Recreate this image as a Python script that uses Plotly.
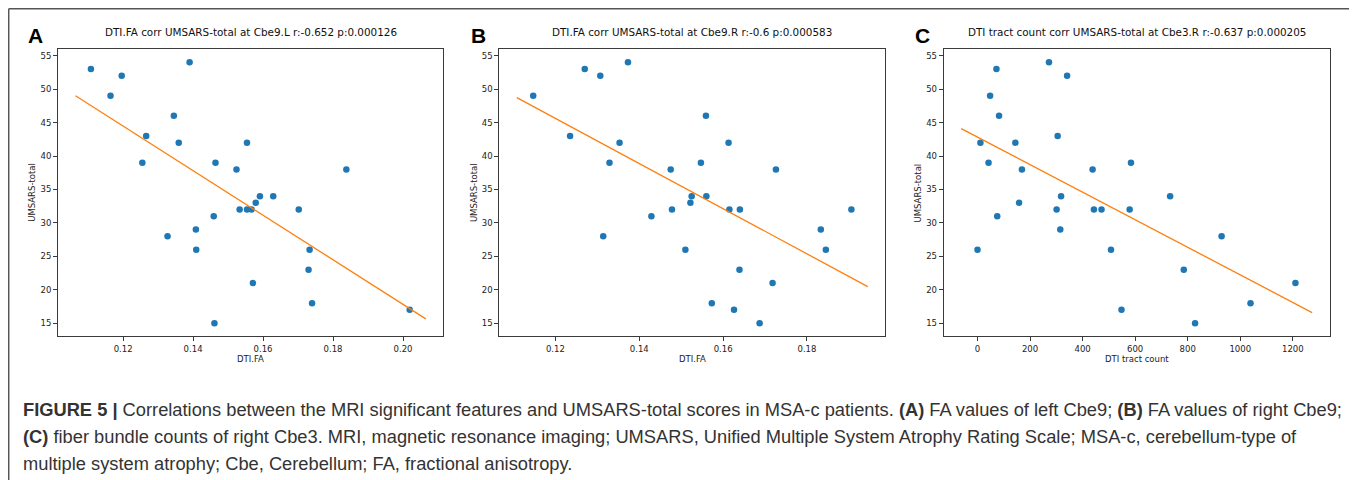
import plotly.graph_objects as go

# The page body has an 8px margin, so the figure is sized to fit inside the window
OFF = 8
W, H = 1357 - OFF, 480 - OFF

# ---------------- data ----------------
a_fa = [0.1108, 0.1164, 0.1196, 0.1390, 0.1345, 0.1266, 0.1359, 0.1554, 0.1255, 0.1464,
        0.1524, 0.1838, 0.1591, 0.1629, 0.1579, 0.1533, 0.1554, 0.1567, 0.1702, 0.1459,
        0.1408, 0.1327, 0.1409, 0.1733, 0.1730, 0.1571, 0.1740, 0.2019, 0.1461]
a_ums = [53, 49, 52, 54, 46, 43, 42, 42, 39, 39,
         38, 38, 34, 34, 33, 32, 32, 32, 32, 31,
         29, 28, 26, 26, 23, 21, 18, 17, 15]
a_fit_x = [0.1064, 0.2065]
a_fit_y = [49.0, 15.66]

b_fa = [0.1147, 0.1270, 0.1307, 0.1373, 0.1559, 0.1235, 0.1353, 0.1613, 0.1329, 0.1547,
        0.1475, 0.1726, 0.1525, 0.1560, 0.1522, 0.1478, 0.1615, 0.1640, 0.1906, 0.1429,
        0.1833, 0.1314, 0.1510, 0.1845, 0.1639, 0.1718, 0.1573, 0.1626, 0.1687]
b_ums = [49, 53, 52, 54, 46, 43, 42, 42, 39, 39,
         38, 38, 34, 34, 33, 32, 32, 32, 32, 31,
         29, 28, 26, 26, 23, 21, 18, 17, 15]
b_fit_x = [0.1108, 0.1945]
b_fit_y = [48.73, 20.48]

c_cnt = [72, 48, 82, 272, 341, 305, 11, 144, 42, 169,
         438, 584, 318, 733, 158, 301, 443, 472, 579, 75,
         315, 929, 0, 508, 785, 1210, 1039, 548, 828]
c_ums = [53, 49, 46, 54, 52, 43, 42, 42, 39, 38,
         38, 39, 34, 34, 33, 32, 32, 32, 32, 31,
         29, 28, 26, 26, 23, 21, 18, 17, 15]
c_fit_x = [-61.9, 1273.6]
c_fit_y = [44.1, 16.6]

titles = ["DTI.FA corr UMSARS-total at Cbe9.L r:-0.652 p:0.000126",
          "DTI.FA corr UMSARS-total at Cbe9.R r:-0.6 p:0.000583",
          "DTI tract count corr UMSARS-total at Cbe3.R r:-0.637 p:0.000205"]
xlabels = ["DTI.FA", "DTI.FA", "DTI tract count"]
ylabel = "UMSARS-total"
letters = ["A", "B", "C"]
x_dticks = [0.02, 0.02, 200]
x_formats = [".2f", ".2f", "d"]

caption_lines = [
    "<b>FIGURE 5 |</b> Correlations between the MRI significant features and UMSARS-total scores in MSA-c patients. "
    "<b>(A)</b> FA values of left Cbe9; <b>(B)</b> FA values of right Cbe9;",
    "<b>(C)</b> fiber bundle counts of right Cbe3. MRI, magnetic resonance imaging; UMSARS, Unified Multiple System "
    "Atrophy Rating Scale; MSA-c, cerebellum-type of",
    "multiple system atrophy; Cbe, Cerebellum; FA, fractional anisotropy.",
]

panels = [(a_fa, a_ums, a_fit_x, a_fit_y),
          (b_fa, b_ums, b_fit_x, b_fit_y),
          (c_cnt, c_ums, c_fit_x, c_fit_y)]

# ---------------- layout (screen pixels) ----------------
px_left = [58.0, 499.3, 943.7]
px_right = [443.3, 885.3, 1329.7]
px_top, px_bottom = 49.3, 336.3
letter_left = [28.0, 470.7, 915.0]


def sx(px):
    return (px - OFF) / W


def sy(py):
    return 1 - (py - OFF) / H


def auto_range(vals):
    lo, hi = min(vals), max(vals)
    m = (hi - lo) * 0.05
    return [lo - m, hi + m]


fig = go.Figure()
annotations = []
shapes = []

tick_font = dict(family="DejaVu Sans", size=8.5, color="#222")
ydom = [sy(px_bottom), sy(px_top)]

for i, (xs, ys, fx, fy) in enumerate(panels):
    n = "" if i == 0 else str(i + 1)
    xa, ya = "x" + n, "y" + n
    fig.add_trace(go.Scatter(x=xs, y=ys, mode="markers", xaxis=xa, yaxis=ya,
                             marker=dict(color="#1f77b4", size=6.5, line=dict(width=0)),
                             showlegend=False, hoverinfo="x+y"))
    fig.add_trace(go.Scatter(x=fx, y=fy, mode="lines", xaxis=xa, yaxis=ya,
                             line=dict(color="#ff7f0e", width=1.3),
                             showlegend=False))
    xdom = [sx(px_left[i]), sx(px_right[i])]
    common = dict(showline=True, mirror=True, linecolor="#3a3a3a", linewidth=1,
                  ticks="outside", ticklen=4, tickwidth=0.8, tickcolor="#3a3a3a",
                  showgrid=False, zeroline=False, tickfont=tick_font)
    fig.layout["xaxis" + n] = dict(domain=xdom, anchor=ya, range=auto_range(xs + fx),
                                   dtick=x_dticks[i], tick0=0, tickformat=x_formats[i], **common)
    fig.layout["yaxis" + n] = dict(domain=ydom, anchor=xa, range=auto_range(ys + fy),
                                   dtick=5, tick0=0, **common)
    cx = (xdom[0] + xdom[1]) / 2
    annotations.append(dict(text=titles[i], x=cx, y=sy(31.7), xref="paper", yref="paper",
                            xanchor="center", yanchor="middle", showarrow=False,
                            font=dict(family="DejaVu Sans", size=10.4, color="#111")))
    annotations.append(dict(text=xlabels[i], x=cx, y=sy(359), xref="paper", yref="paper",
                            xanchor="center", yanchor="middle", showarrow=False,
                            font=dict(family="DejaVu Sans", size=8.5, color="#222")))
    annotations.append(dict(text=ylabel, x=sx(px_left[i] - 26), y=sum(ydom) / 2,
                            xref="paper", yref="paper", textangle=-90,
                            xanchor="center", yanchor="middle", showarrow=False,
                            font=dict(family="DejaVu Sans", size=8.5, color="#222")))
    annotations.append(dict(text="<b>" + letters[i] + "</b>", x=sx(letter_left[i] - 2),
                            y=sy(35.5), xref="paper", yref="paper",
                            xanchor="left", yanchor="middle", showarrow=False,
                            font=dict(family="Liberation Sans", size=21, color="#000")))

cap_y = [409, 436, 463]
for line, yy in zip(caption_lines, cap_y):
    annotations.append(dict(text=line, x=sx(24 - 3), y=sy(yy), xref="paper", yref="paper",
                            xanchor="left", yanchor="middle", showarrow=False, align="left",
                            font=dict(family="Liberation Sans", size=18.3, color="#333")))

# outer frame (left, top, right edges; bottom runs past the window)
frame = dict(color="#555", width=1.5)
fl, fr, ft = sx(8.7), sx(1354.5), sy(8.7)
shapes.append(dict(type="line", xref="paper", yref="paper", x0=fl, x1=fl, y0=0, y1=ft, line=frame))
shapes.append(dict(type="line", xref="paper", yref="paper", x0=fl, x1=fr, y0=ft, y1=ft, line=frame))
shapes.append(dict(type="line", xref="paper", yref="paper", x0=fr, x1=fr, y0=0, y1=ft, line=frame))

fig.update_layout(width=W, height=H, margin=dict(l=0, r=0, t=0, b=0),
                  paper_bgcolor="white", plot_bgcolor="white",
                  annotations=annotations, shapes=shapes)

fig.write_html("out.html")
